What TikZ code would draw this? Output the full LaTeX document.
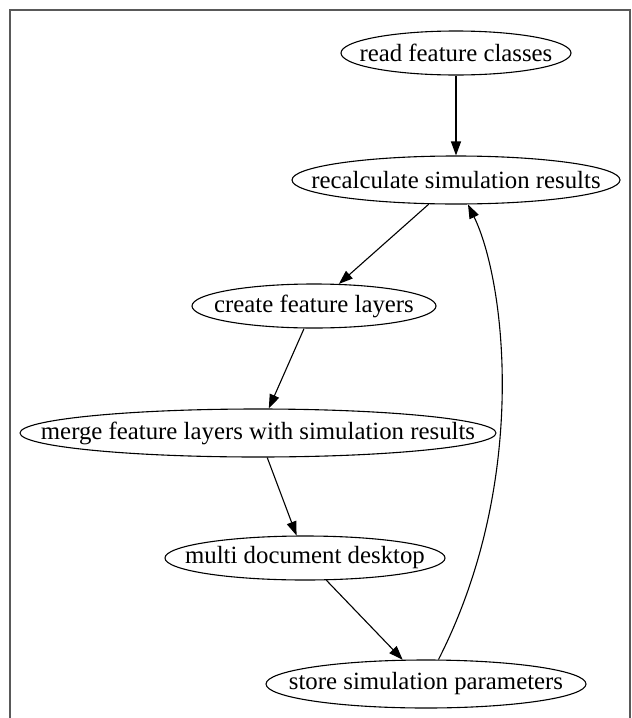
\documentclass[tikz,border=0pt]{standalone}
\usepackage{fontspec}
\setmainfont{Liberation Serif}
\usetikzlibrary{arrows.meta,shapes.geometric}
\newcommand{\tasktext}[1]{\makebox[0pt]{#1}}
\tikzset{
	task/.style={draw, ellipse, inner sep=0pt, line width=1.1pt, font=\fontsize{24.8}{26}\selectfont},
	edge/.style={line width=1.1pt, -{Triangle[length=14pt,width=10pt]}},
	frame/.style={line width=1.3pt, color=black!65}
}

\begin{document}
\begin{tikzpicture}[x=1pt, y=-1pt]
			%%%%% START %%%%%
			
			\useasboundingbox (0, 0) rectangle (632, 718);
			\draw[frame] (10, 718) -- (10, 10) -- (630, 10) -- (630, 718);
			
			\node[task, minimum width=230, minimum height=44] (read) at (456, 53) {\tasktext{read feature classes}};
			\node[task, minimum width=328, minimum height=48] (recalc) at (456, 180) {\tasktext{recalculate simulation results}};
			\node[task, minimum width=244, minimum height=44] (layers) at (314, 306) {\tasktext{create feature layers}};
			\node[task, minimum width=476, minimum height=48] (merge) at (258, 433) {\tasktext{merge feature layers with simulation results}};
			\node[task, minimum width=280, minimum height=44] (desktop) at (305, 558) {\tasktext{multi document desktop}};
			\node[task, minimum width=320, minimum height=48] (store) at (426, 684) {\tasktext{store simulation parameters}};
			
			\draw[edge] (read) -- (recalc);
			\draw[edge] (recalc) -- (layers);
			\draw[edge] (layers) -- (merge);
			\draw[edge] (merge) -- (desktop);
			\draw[edge] (desktop) -- (store);
			\draw[edge] (store) .. controls (530, 480) and (505, 280) .. (recalc);
			
			%%%%% END %%%%%
		\end{tikzpicture}
\end{document}
